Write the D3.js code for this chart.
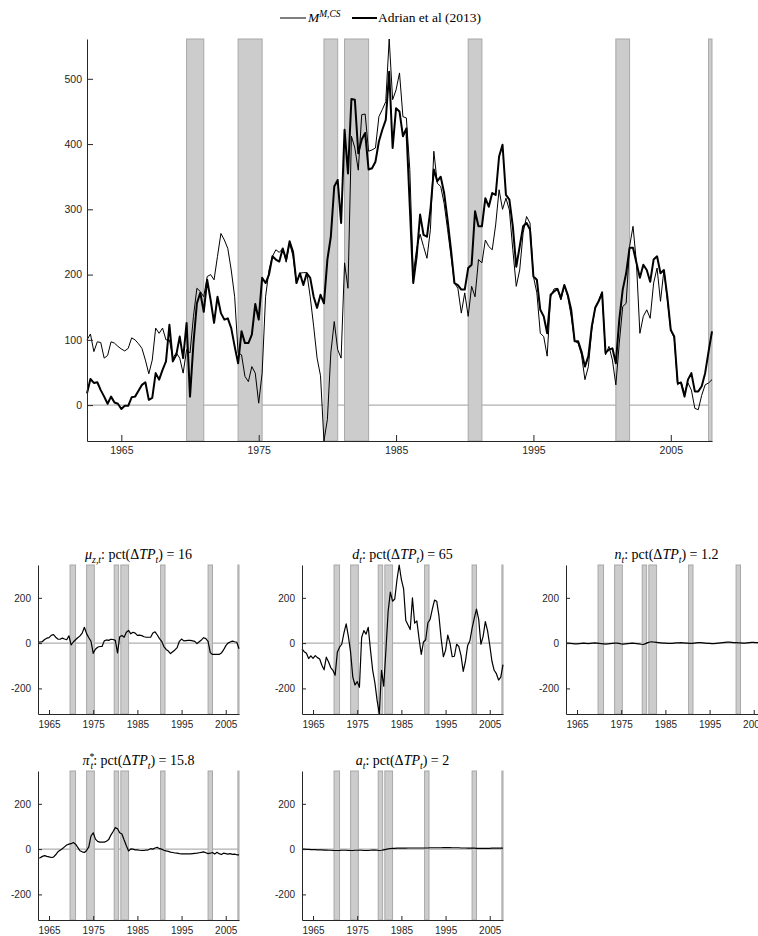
<!DOCTYPE html>
<html>
<head>
<meta charset="utf-8">
<script src="https://cdn.jsdelivr.net/npm/d3@7"></script>
<style>
  body { margin: 0; background: #fff; overflow: hidden; }
  svg { display: block; }
</style>
</head>
<body>
<svg id="chart" width="758" height="936"></svg>
<script>
// ---- Term premium decomposition, quarterly from 1962.5 ----
const quarterStart = 1962.5;
const quarterStep = 0.25;

// Model-implied term premium M^{M,CS}
const modelTP = [
  100,109,82,97,96,72,76,97,95,90,
  86,83,87,103,100,94,87,69,48,69,
  118,110,118,100,100,72,80,72,49,85,
  80,136,179,174,166,197,200,192,228,263,
  253,240,207,166,80,77,44,36,59,49,
  3,49,166,207,228,238,234,240,219,248,
  228,187,202,203,203,166,121,72,45,-55,
  -22,80,128,85,72,218,179,412,394,360,
  445,446,389,391,394,442,453,465,561,468,
  483,509,442,440,361,200,240,262,243,225,
  269,389,340,335,309,269,228,187,179,141,
  172,136,182,166,223,218,253,243,238,276,
  330,300,317,299,238,182,207,264,289,279,
  197,172,110,105,75,166,178,179,161,184,
  166,136,98,95,77,39,59,115,151,161,
  174,77,90,69,31,95,151,156,243,274,
  218,110,136,146,133,187,210,159,207,161,
  115,103,31,36,18,34,23,-5,-7,15,
  31,34,39
];

// Adrian et al (2013) term premium
const adrianTP = [
  18,40,34,35,23,13,2,13,4,2,
  -6,-1,-1,12,13,22,31,35,8,11,
  49,39,54,67,123,67,77,105,72,126,
  13,95,156,172,143,192,161,126,166,141,
  131,133,118,90,64,113,95,95,108,155,
  131,195,187,200,228,223,220,240,223,251,
  235,187,202,184,202,195,166,149,169,156,
  223,258,335,345,279,422,355,469,468,386,
  407,417,361,363,373,404,422,437,511,394,
  455,450,412,424,304,187,228,292,261,258,
  299,361,343,350,325,284,238,187,184,177,
  177,210,215,297,274,274,317,304,325,322,
  381,399,322,315,274,212,243,274,279,269,
  197,192,146,136,110,169,174,178,164,184,
  169,146,98,98,82,59,75,121,149,159,
  172,80,85,87,64,131,177,202,241,241,
  218,195,215,207,189,223,228,202,207,166,
  115,105,34,34,13,39,49,21,21,29,
  49,82,113
];

// NBER recessions (start, end) in years
const recessions = [
  [1969.75, 1971.0], [1973.5, 1975.25], [1979.75, 1980.75], [1981.25, 1983.0],
  [1990.25, 1991.25], [2001.0, 2002.0], [2007.75, 2008.0]
];

const yearTicks = [1965, 1975, 1985, 1995, 2005];
const mainYTicks = [0, 100, 200, 300, 400, 500];
const legendLabels = ["M", "Adrian et al (2013)"];

// ---- Shock contributions, half-yearly from 1962.5 ----
const panelStart = 1962.5;
const panelStep = 0.5;

const muZ = [
  4,5,7,16,22,24,34,38,26,18,
  17,22,18,15,32,-8,5,15,24,32,
  44,70,42,24,8,-45,-27,-18,-15,-15,
  10,14,12,17,16,12,-43,28,34,26,
  48,56,41,48,44,34,35,33,28,26,
  26,26,45,50,36,20,8,-15,-28,-35,
  -46,-38,-30,-20,8,18,10,11,12,12,
  10,8,-2,6,14,24,20,8,-42,-50,
  -50,-50,-50,-44,-30,-12,0,5,9,6,
  4,-25
];
const dShock = [
  -25,-38,-45,-68,-56,-67,-55,-64,-70,-98,
  -118,-62,-82,-108,-120,-142,-40,-18,-5,45,
  85,30,-40,-150,-185,-170,-195,25,55,40,
  70,-30,-120,-175,-253,-313,-120,-190,-30,140,
  225,185,195,280,345,280,240,100,80,60,
  200,88,98,20,-50,5,15,90,105,150,
  190,185,120,20,-60,-32,35,0,-60,-58,
  -5,-15,-55,-125,-80,-10,10,65,110,150,
  105,-5,30,95,55,-10,-80,-120,-135,-163,
  -150,-95
];
const nShock = [
  0,0,-1,-2,-3,-3,-2,-1,0,-1,
  -2,-1,0,1,0,-1,-2,-3,-4,-3,
  -2,-1,0,0,-1,-3,-4,-3,-2,-1,
  0,-1,-2,-3,-5,-6,-2,2,5,6,
  4,3,2,1,0,0,-1,-1,-1,0,
  1,1,2,1,0,0,-1,-1,0,1,
  2,2,1,0,-1,-1,-2,-2,-1,0,
  1,2,3,4,4,3,2,2,1,1,
  0,0,1,2,3,3,2,2,1,1,
  0,0
];
const piStar = [
  -40,-38,-32,-29,-32,-34,-37,-35,-25,-12,
  -5,2,10,18,22,24,29,22,8,-7,
  -12,-15,-6,10,58,72,44,34,31,31,
  31,35,42,62,78,95,90,72,67,40,
  15,-8,1,0,-3,-3,-5,-6,-6,-4,
  -3,2,0,5,8,2,0,-5,-8,-10,
  -13,-15,-17,-18,-20,-21,-21,-21,-21,-21,
  -20,-19,-18,-16,-14,-12,-16,-20,-18,-15,
  -22,-14,-20,-24,-18,-20,-22,-20,-23,-22,
  -25,-25
];
const aShock = [
  0,0,-1,-1,-2,-2,-2,-3,-3,-3,
  -4,-4,-5,-5,-6,-6,-6,-6,-5,-5,
  -5,-6,-6,-6,-5,-5,-5,-5,-6,-6,
  -6,-5,-4,-4,-5,-6,-5,-3,-1,1,
  2,3,3,4,4,4,4,4,5,5,
  5,5,5,5,5,5,5,5,6,6,
  6,6,6,6,7,7,7,7,6,6,
  6,6,5,5,5,4,4,4,4,3,
  3,3,3,3,3,3,4,4,4,4,
  4,4
];

const panelSeries = [muZ, dShock, nShock, piStar, aShock];
const panelSymbols = [
  { base: "μ", sub: "z,t" },
  { base: "d", sub: "t" },
  { base: "n", sub: "t" },
  { base: "π", sup: "*", sub: "t" },
  { base: "a", sub: "t" }
];
const panelShares = ["16", "65", "1.2", "15.8", "2"];
const panelYTicks = [-200, 0, 200];

// ---- Drawing ----
const INK = "#262626";
const SANS = "'Liberation Sans', Arial, sans-serif";
const SERIF = "'Liberation Serif', 'Times New Roman', serif";
const BAND_FILL = "#cccccc";
const BAND_EDGE = "#a8a8a8";
const ZERO_LINE = "#9c9c9c";

const svg = d3.select("#chart");

// Writes a run of math-style pieces into a <text>, handling sub/superscripts.
function writeMath(text, pieces, size) {
  let cur = 0;
  pieces.forEach(p => {
    const shift = p.sub ? size * 0.28 : p.sup ? -size * 0.38 : 0;
    const ts = text.append("tspan").text(p.t).attr("dy", shift - cur);
    if (p.dx) ts.attr("dx", p.dx);
    if (p.i) ts.attr("font-style", "italic");
    if (p.sub || p.sup) ts.attr("font-size", size * 0.7);
    cur = shift;
  });
}

function styleAxis(g, fontSize) {
  g.select(".domain").attr("stroke", INK).attr("stroke-width", 1);
  g.selectAll(".tick line").attr("stroke", INK);
  g.selectAll(".tick text")
    .attr("fill", INK)
    .attr("font-family", SANS)
    .attr("font-size", fontSize);
}

function drawFrame(g, x, y, box) {
  const [x0, x1] = x.domain();
  // zero reference line
  g.append("line")
    .attr("x1", box.left).attr("x2", box.right)
    .attr("y1", y(0)).attr("y2", y(0))
    .attr("stroke", ZERO_LINE).attr("stroke-width", 1);
  // recession shading
  g.append("g").selectAll("rect")
    .data(recessions.filter(r => r[1] > x0 && r[0] < x1))
    .join("rect")
    .attr("x", d => x(Math.max(d[0], x0)))
    .attr("width", d => x(Math.min(d[1], x1)) - x(Math.max(d[0], x0)))
    .attr("y", box.top)
    .attr("height", box.bottom - box.top)
    .attr("fill", BAND_FILL)
    .attr("stroke", BAND_EDGE)
    .attr("stroke-width", 1);
}

function drawAxes(g, x, y, box, yTicks, o) {
  const gx = g.append("g")
    .attr("transform", `translate(0,${box.bottom})`)
    .call(d3.axisBottom(x).tickValues(yearTicks).tickFormat(d3.format("d"))
      .tickSizeInner(-o.tick).tickSizeOuter(0).tickPadding(o.xPad));
  styleAxis(gx, o.font);
  const gy = g.append("g")
    .attr("transform", `translate(${box.left},0)`)
    .call(d3.axisLeft(y).tickValues(yTicks).tickFormat(d => String(d))
      .tickSizeInner(-o.tick).tickSizeOuter(0).tickPadding(o.yPad));
  styleAxis(gy, o.font);
}

// ---- Main chart ----
const mainBox = { left: 87, right: 712, top: 39, bottom: 441 };
const xMain = d3.scaleLinear()
  .domain([quarterStart, quarterStart + quarterStep * (modelTP.length - 1)])
  .range([mainBox.left, mainBox.right]);
const yMain = d3.scaleLinear()
  .domain(d3.extent(modelTP.concat(adrianTP)))
  .range([mainBox.bottom, mainBox.top]);

const gMain = svg.append("g");
drawFrame(gMain, xMain, yMain, mainBox);

const lineMain = d3.line()
  .x((d, i) => xMain(quarterStart + i * quarterStep))
  .y(d => yMain(d));

gMain.append("path").datum(adrianTP)
  .attr("d", lineMain).attr("fill", "none")
  .attr("stroke", "#000").attr("stroke-width", 2).attr("stroke-linejoin", "round");
gMain.append("path").datum(modelTP)
  .attr("d", lineMain).attr("fill", "none")
  .attr("stroke", "#000").attr("stroke-width", 1).attr("stroke-linejoin", "round");

drawAxes(gMain, xMain, yMain, mainBox, mainYTicks, { tick: 6, xPad: 6, yPad: 5, font: 10.5 });

// legend
const LEG = 13.5;
const legend = svg.append("g").attr("font-family", SERIF).attr("font-size", LEG).attr("fill", "#000");
legend.append("line").attr("x1", 280).attr("x2", 306).attr("y1", 18).attr("y2", 18)
  .attr("stroke", "#000").attr("stroke-width", 1);
const legText1 = legend.append("text").attr("x", 308).attr("y", 22);
writeMath(legText1, [{ t: legendLabels[0], i: true }, { t: "M,CS", i: true, sup: true }], LEG);
legend.append("line").attr("x1", 352).attr("x2", 377).attr("y1", 18).attr("y2", 18)
  .attr("stroke", "#000").attr("stroke-width", 2);
legend.append("text").attr("x", 378).attr("y", 22).text(legendLabels[1]);

// ---- Shock panels ----
const panelBoxes = [
  { left: 38, top: 565 }, { left: 302, top: 565 }, { left: 566, top: 565 },
  { left: 38, top: 771 }, { left: 302, top: 771 }
];
const panelW = 201, panelH = 149;
const panelDomain = d3.extent(panelSeries.flat());
const TITLE = 14;

panelSeries.forEach((vals, k) => {
  const pb = panelBoxes[k];
  const box = { left: pb.left, right: pb.left + panelW, top: pb.top, bottom: pb.top + panelH };
  const x = d3.scaleLinear()
    .domain([panelStart, panelStart + panelStep * (vals.length - 1)])
    .range([box.left, box.right]);
  const y = d3.scaleLinear().domain(panelDomain).range([box.bottom, box.top]);
  const g = svg.append("g");
  drawFrame(g, x, y, box);
  g.append("path").datum(vals)
    .attr("d", d3.line().x((d, i) => x(panelStart + i * panelStep)).y(d => y(d)))
    .attr("fill", "none").attr("stroke", "#000").attr("stroke-width", 1.2)
    .attr("stroke-linejoin", "round");
  drawAxes(g, x, y, box, panelYTicks, { tick: 4, xPad: 7, yPad: 7, font: 10 });

  const sym = panelSymbols[k];
  const pieces = [{ t: sym.base, i: true }];
  if (sym.sup) {
    pieces.push({ t: sym.sup, sup: true });
    pieces.push({ t: sym.sub, i: true, sub: true, dx: -4 });
  } else {
    pieces.push({ t: sym.sub, i: true, sub: true });
  }
  pieces.push({ t: ": pct(Δ" }, { t: "TP", i: true }, { t: "t", i: true, sub: true },
    { t: ") = " + panelShares[k] });
  const title = g.append("text")
    .attr("x", (box.left + box.right) / 2).attr("y", box.top - 6)
    .attr("text-anchor", "middle")
    .attr("font-family", SERIF).attr("font-size", TITLE).attr("fill", "#000");
  writeMath(title, pieces, TITLE);
});
</script>
</body>
</html>
